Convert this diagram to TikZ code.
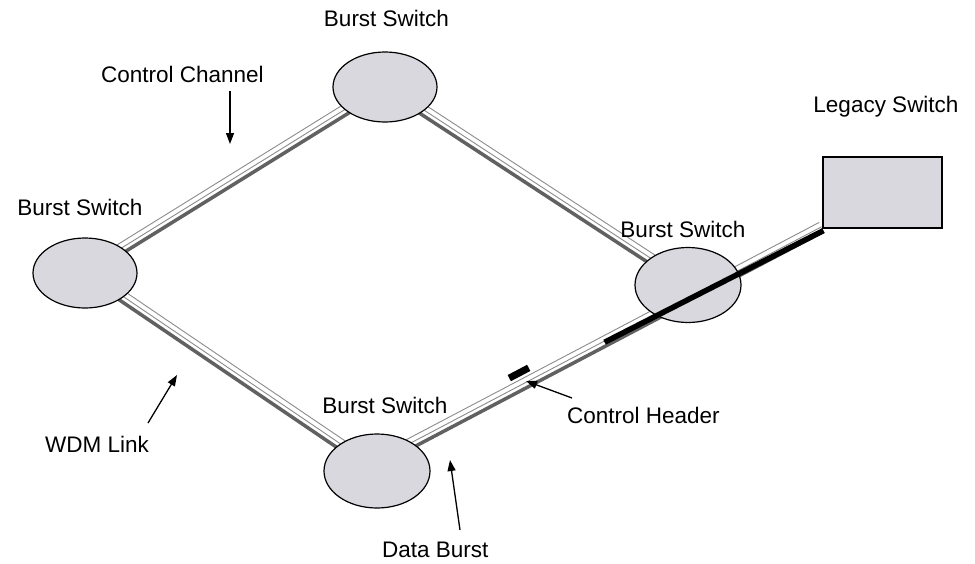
\documentclass[tikz,border=0pt]{standalone}
\usepackage{fontspec}
\setmainfont{Liberation Sans}
\usetikzlibrary{calc,arrows.meta,shapes.geometric}
\pgfdeclarelayer{background}
\pgfsetlayers{background,main}
\newcommand\wdmlink[2]{%
  \draw[linkthin] ($(#1)!7pt!90:(#2)$) -- ($(#2)!7pt!-90:(#1)$);
  \draw[linkthin] ($(#1)!2pt!90:(#2)$) -- ($(#2)!2pt!-90:(#1)$);
  \draw[linkband] ($(#1)!3pt!-90:(#2)$) -- ($(#2)!3pt!90:(#1)$);
}
\definecolor{swfill}{RGB}{216,216,222}
\begin{document}
\begin{tikzpicture}[x=1pt,y=-1pt,
  switchnode/.style={ellipse, draw=black, line width=1.2pt, fill=swfill, inner sep=0pt},
  legacynode/.style={rectangle, draw=black, line width=1.2pt, fill=swfill, inner sep=0pt, minimum width=119pt, minimum height=71pt},
  lbl/.style={font=\fontsize{22.5}{26}\selectfont, inner sep=0pt, anchor=base},
  linkthin/.style={draw=black!45, line width=0.9pt},
  linkband/.style={draw=black!62, line width=3.5pt},
  arr/.style={line width=1.3pt, -{Triangle[length=11pt,width=8pt]}},
  burst/.style={line width=5.5pt, black},
  hdr/.style={fill=black, inner sep=0pt, minimum width=22pt, minimum height=7pt}
]
\useasboundingbox (0,0) rectangle (975,563);
% switches
\node[switchnode, minimum width=104pt, minimum height=70pt] (T) at (385,87) {};
\node[switchnode, minimum width=104pt, minimum height=70pt] (L) at (85,273) {};
\node[switchnode, minimum width=106pt, minimum height=75pt] (R) at (688,285) {};
\node[switchnode, minimum width=106pt, minimum height=74pt] (B) at (377,471) {};
\node[legacynode] (LG) at (882.5,192.5) {};
\coordinate (Bl) at ($(B.center)+(0,-8)$);
% links under the switches
\begin{pgfonlayer}{background}
  \fill[white] (0,0) rectangle (975,563);
  \wdmlink{L.center}{T.center}
  \wdmlink{T.center}{R.center}
  \wdmlink{L.center}{B.center}
  \wdmlink{Bl}{LG.south west}
\end{pgfonlayer}
% data burst and control header
\coordinate (db1) at ($(Bl)!0.511!(LG.south west)+(0,-1)$);
\coordinate (db2) at ($(LG.south west)+(1,2)$);
\draw[burst] (db1) -- (db2);
\node[hdr, rotate=27.8] (CH) at (519,373) {};
% labels
\node[lbl] (tT) at (386.5,26) {Burst Switch};
\node[lbl] (tL) at (80,215) {Burst Switch};
\node[lbl] (tR) at (683,237) {Burst Switch};
\node[lbl] (tB) at (385,413) {Burst Switch};
\node[lbl] (tLG) at (886,112) {Legacy Switch};
\node[lbl] (tCC) at (182.5,82) {Control Channel};
\node[lbl, anchor=base west] (tCH) at (567,423) {Control Header};
\node[lbl, anchor=base west] (tWDM) at (45,452) {WDM Link};
\node[lbl, anchor=base west] (tDB) at (382,557) {Data Burst};
% pointer arrows
\coordinate (aCC1) at (230,91);  \coordinate (aCC2) at (230,144);
\coordinate (aW1) at (148,423);  \coordinate (aW2) at (177,375);
\coordinate (aD1) at (460,530);  \coordinate (aD2) at (450,460);
\coordinate (aH1) at (572,398);  \coordinate (aH2) at (526,381);
\draw[arr] (aCC1) -- (aCC2);
\draw[arr] (aW1) -- (aW2);
\draw[arr] (aD1) -- (aD2);
\draw[arr] (aH1) -- (aH2);
\end{tikzpicture}
\end{document}
